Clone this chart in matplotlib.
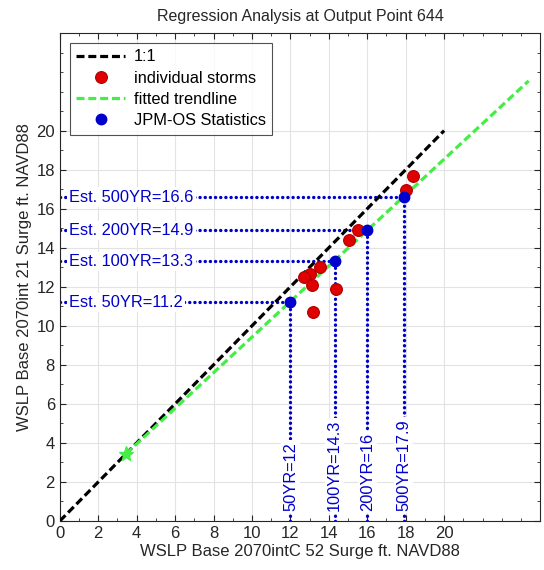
import numpy as np
import matplotlib
matplotlib.use('Agg')
import matplotlib.pyplot as plt
from matplotlib.ticker import MultipleLocator, FixedLocator

plt.rcParams['font.family'] = ['Liberation Sans', 'DejaVu Sans']

# individual storm responses (x: base 2070intC 52, y: base 2070int 21)
storm_x = [18.4, 18.0, 15.5, 15.05, 13.55, 13.0, 12.7, 13.1, 14.35, 13.2]
storm_y = [17.7, 16.95, 14.9, 14.4, 13.0, 12.65, 12.5, 12.1, 11.9, 10.7]

# JPM-OS return period estimates
rp_labels = ["50YR", "100YR", "200YR", "500YR"]
jpm_x = [12.0, 14.3, 16.0, 17.9]
jpm_y = [11.2, 13.3, 14.9, 16.6]

# reference lines
one_x = [0, 20]
one_y = [0, 20]
trend_x = [3.45, 24.4]
trend_y = [3.45, 22.55]

BLUE = "#0000cc"
DOTS = (0, (0.05, 1.5))

fig = plt.figure(figsize=(5.44, 5.70), dpi=100)
ax = fig.add_axes([0.110, 0.086, 0.883, 0.856])

ax.plot(one_x, one_y, linestyle=(0, (2.5, 1.2)), color="black", lw=2.3,
        label="1:1", zorder=3)
ax.plot(storm_x, storm_y, "o", ms=8.5, mfc="#e00000", mec="#b00000", mew=0.8,
        linestyle="none", label="individual storms", zorder=5)
ax.plot(trend_x, trend_y, linestyle=(0, (2.5, 1.2)), color="#44ee44", lw=2.3,
        label="fitted trendline", zorder=3)
ax.plot(trend_x[0], trend_y[0], "*", ms=11, color="#44ee44", zorder=4)

for lab, xv, yv in zip(rp_labels, jpm_x, jpm_y):
    ax.plot([0, xv], [yv, yv], linestyle=DOTS, color=BLUE, lw=2.4,
            dash_capstyle="round", zorder=2)
    ax.plot([xv, xv], [0, yv], linestyle=DOTS, color=BLUE, lw=2.4,
            dash_capstyle="round", zorder=2)
    ax.text(0.5, yv, f"Est. {lab}={yv:g}", color=BLUE, fontsize=11.8,
            va="center", ha="left", zorder=6,
            bbox=dict(facecolor="white", edgecolor="none", pad=1.5))
    ax.text(xv, 0.5, f"{lab}={xv:g}", color=BLUE, fontsize=11.8, rotation=90,
            va="bottom", ha="center", zorder=6,
            bbox=dict(facecolor="white", edgecolor="none", pad=1.5))

ax.plot(jpm_x, jpm_y, "o", ms=7.5, color=BLUE, linestyle="none",
        label="JPM-OS Statistics", zorder=6)

ax.set_xlim(0, 25)
ax.set_ylim(0, 25)
ax.xaxis.set_major_locator(FixedLocator(np.arange(0, 21, 2)))
ax.yaxis.set_major_locator(FixedLocator(np.arange(0, 21, 2)))
ax.xaxis.set_minor_locator(MultipleLocator(1))
ax.yaxis.set_minor_locator(MultipleLocator(1))
ax.tick_params(which="both", direction="in", top=True, right=True,
               colors="#262626", labelsize=12)
ax.tick_params(which="major", length=4)
ax.tick_params(which="minor", length=2.5)
ax.grid(True, which="major", color="#e3e3e3", lw=0.8)
ax.set_axisbelow(True)
for sp in ax.spines.values():
    sp.set_color("#262626")
    sp.set_linewidth(0.8)

ax.set_xlabel("WSLP Base 2070intC 52 Surge ft. NAVD88", fontsize=12,
              color="#262626", labelpad=2)
ax.set_ylabel("WSLP Base 2070int 21 Surge ft. NAVD88", fontsize=12,
              color="#262626", labelpad=3)
ax.set_title("Regression Analysis at Output Point 644", fontsize=11.5,
             color="#262626", pad=9)

leg = ax.legend(loc="upper left", fontsize=11.8, frameon=True, fancybox=False,
                edgecolor="#262626", borderaxespad=0.6, handlelength=3.0,
                labelspacing=0.38, borderpad=0.4, handletextpad=0.5)
leg.get_frame().set_linewidth(0.8)

fig.savefig("out.png", dpi=100)
